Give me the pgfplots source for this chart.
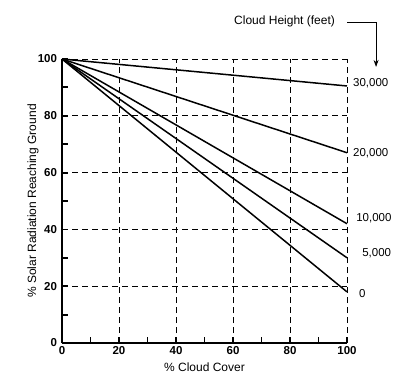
\documentclass[border=0pt]{standalone}
\usepackage{fontspec}
\setmainfont{Liberation Sans}
\usepackage{pgfplots}
\pgfplotsset{compat=1.18}
\usetikzlibrary{arrows.meta}
\begin{document}
\fontsize{11.5pt}{13pt}\selectfont
\begin{tikzpicture}[x=1pt,y=1pt]
\useasboundingbox (-62,-40) rectangle (341,343);
\begin{axis}[
  at={(0,0)}, anchor=origin,
  scale only axis, width=285pt, height=284pt,
  xmin=0, xmax=100, ymin=0, ymax=100,
  axis x line*=bottom, axis y line*=left,
  axis line style={line width=2pt, -},
  xtick={0,20,...,100}, ytick={0,20,...,100},
  minor xtick={10,30,50,70,90}, minor ytick={10,30,50,70,90},
  tick align=inside,
  major tick length=6pt, minor tick length=6pt,
  tick style={line width=1.8pt, black},
  grid=major,
  major grid style={dashed, black, line width=0.9pt, dash pattern=on 6pt off 4pt},
  /pgf/number format/assume math mode=true,
  ticklabel style={font=\fontsize{11.5pt}{13pt}\selectfont\bfseries},
  xticklabel style={yshift=1pt},
  yticklabel style={xshift=-1pt},
  xlabel={\% Cloud Cover},
  ylabel={\% Solar Radiation Reaching Ground},
  label style={font=\fontsize{12pt}{14pt}\selectfont},
  xlabel style={at={(axis description cs:0.5,-0.0845)}, anchor=center},
  ylabel style={at={(axis description cs:-0.1018,0.5)}, anchor=center},
  clip=false,
]
\addplot[black, line width=1.5pt] coordinates {(0,100) (100,90.5)};
\addplot[black, line width=1.5pt] coordinates {(0,100) (100,67)};
\addplot[black, line width=1.5pt] coordinates {(0,100) (100,42)};
\addplot[black, line width=1.5pt] coordinates {(0,100) (100,30)};
\addplot[black, line width=1.5pt] coordinates {(0,100) (100,18)};
\node[anchor=west, inner sep=0pt, font=\fontsize{11.5pt}{13pt}\selectfont] at (axis cs:102.1,91.5) {30,000};
\node[anchor=west, inner sep=0pt, font=\fontsize{11.5pt}{13pt}\selectfont] at (axis cs:102.1,66.9) {20,000};
\node[anchor=west, inner sep=0pt, font=\fontsize{11.5pt}{13pt}\selectfont] at (axis cs:103.2,44.0) {10,000};
\node[anchor=west, inner sep=0pt, font=\fontsize{11.5pt}{13pt}\selectfont] at (axis cs:105.3,31.7) {5,000};
\node[anchor=west, inner sep=0pt, font=\fontsize{11.5pt}{13pt}\selectfont] at (axis cs:104.2,17.3) {0};
\node[inner sep=0pt, font=\fontsize{12pt}{14pt}\selectfont] at (axis cs:78.1,113.4) {Cloud Height (feet)};
\draw[black, line width=1pt, -{Stealth[length=7pt,width=5pt]}] (axis cs:100,112.7) -- (axis cs:110.2,112.7) -- (axis cs:110.2,97.2);
\end{axis}
\end{tikzpicture}
\end{document}
